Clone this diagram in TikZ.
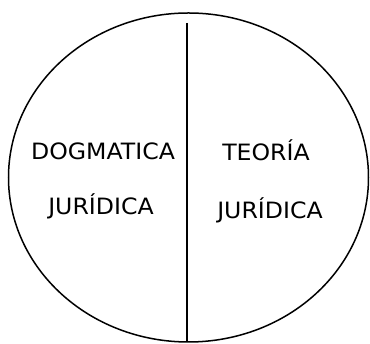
\documentclass[tikz,border=0pt]{standalone}
\usepackage{fontspec}
\setmainfont{DejaVu Sans}[FakeStretch=1.05]
\begin{document}
\begin{tikzpicture}[x=1pt,y=1pt,
  lbl/.style={anchor=base,inner sep=0pt,font=\fontsize{22.5}{27}\selectfont},
  outline/.style={line width=1.5pt,black}]
\useasboundingbox (0,0) rectangle (370,344);
\draw[outline] (188.5,166.5) ellipse [x radius=180, y radius=164.5];
\coordinate (top) at (187,321);
\coordinate (bot) at (187,2);
\draw[outline] (top) -- (bot);
\node[lbl] (dog) at (103,184.7) {DOGMATICA};
\node[lbl] (jur1) at (101,129) {JURÍDICA};
\node[lbl] (teo) at (266,183.5) {TEORÍA};
\node[lbl] (jur2) at (270,125) {JURÍDICA};
\end{tikzpicture}
\end{document}
